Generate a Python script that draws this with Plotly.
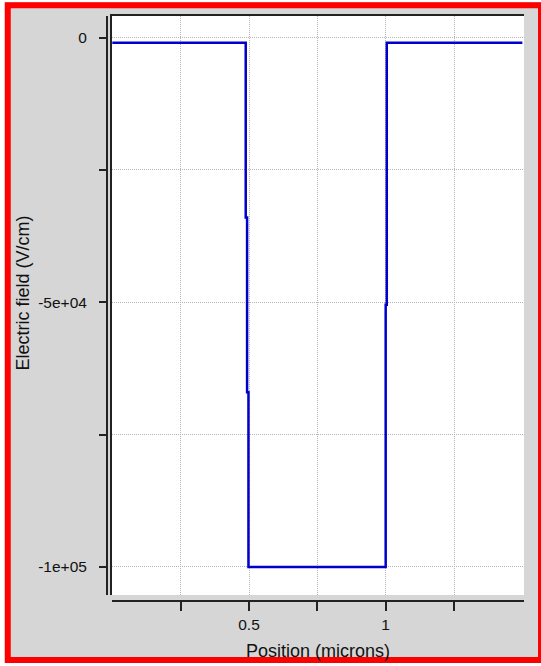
import plotly.graph_objects as go

# Electric field across the device (piecewise constant per mesh cell)
position_um = [0.0, 0.488, 0.493, 0.498, 1.0, 1.004, 1.5]
field_v_cm = [-1000, -34000, -67000, -100000, -50500, -1000, -1000]

x_ticks = [0.25, 0.5, 0.75, 1.0, 1.25]
x_tick_text = ["", "0.5", "", "1", ""]
y_ticks = [0, -25000, -50000, -75000, -100000]
y_tick_text = ["0", "", "-5e+04", "", "-1e+05"]

W, H = 541, 666
ML, MR, MT, MB = 107, 17, 16, 65
PW, PH = W - ML - MR, H - MT - MB

def fx(px):
    return (px - ML) / PW

def fy(py):
    return (H - MB - py) / PH

BG = "#d6d6d6"
AXC = "#222222"
FONT = "Liberation Sans, Arial, Helvetica, sans-serif"
x_range = [-0.003, 1.506]
y_range = [-105300, 4060]

fig = go.Figure()
fig.add_trace(go.Scatter(
    x=position_um, y=field_v_cm, mode="lines",
    line=dict(color="#0000cc", width=2.5, shape="hv"),
    showlegend=False, hoverinfo="skip",
))
# empty traces that register the offset tick axes
fig.add_trace(go.Scatter(x=[], y=[], xaxis="x2", yaxis="y", showlegend=False, hoverinfo="skip"))
fig.add_trace(go.Scatter(x=[], y=[], xaxis="x", yaxis="y2", showlegend=False, hoverinfo="skip"))

grid = dict(showgrid=True, gridcolor="#b4b4b4", gridwidth=1, griddash="1px,1px", zeroline=False)

fig.update_layout(
    width=W, height=H,
    margin=dict(l=ML, r=MR, t=MT, b=MB, pad=0),
    paper_bgcolor=BG, plot_bgcolor="white",
    font=dict(family=FONT, size=15, color="#111111"),
    showlegend=False,
    xaxis=dict(domain=[fx(111.5), 1], range=x_range, side="top",
               tickvals=x_ticks, ticks="", showticklabels=False,
               showline=True, linecolor=AXC, linewidth=2, **grid),
    yaxis=dict(domain=[fy(595), 1], range=y_range,
               tickvals=y_ticks, ticks="", showticklabels=False,
               showline=True, linecolor=AXC, linewidth=2, **grid),
    xaxis2=dict(overlaying="x", anchor="free", position=0, side="bottom",
                range=x_range, tickvals=x_ticks, ticktext=x_tick_text,
                ticks="outside", ticklen=9, tickwidth=2, tickcolor=AXC,
                showline=True, linecolor=AXC, linewidth=2,
                showgrid=False, zeroline=False,
                tickfont=dict(size=15.5)),
    yaxis2=dict(overlaying="y", anchor="free", position=0, side="left",
                range=y_range, tickvals=y_ticks, ticktext=y_tick_text,
                ticks="outside", ticklen=7, tickwidth=2, tickcolor=AXC,
                ticklabelstandoff=9,
                showline=True, linecolor=AXC, linewidth=2,
                showgrid=False, zeroline=False,
                tickfont=dict(size=15.5)),
)

# Axis titles
fig.add_annotation(text="Position (microns)", xref="paper", yref="paper",
                   x=fx(318), y=fy(651), showarrow=False,
                   xanchor="center", yanchor="middle",
                   font=dict(size=18, family=FONT, color="#111111"))
fig.add_annotation(text="Electric field (V/cm)", xref="paper", yref="paper",
                   x=fx(22), y=fy(293.5), showarrow=False, textangle=-90,
                   xanchor="center", yanchor="middle",
                   font=dict(size=18, family=FONT, color="#111111"))

# Window frame: white outer strips and red border
for x0, y0, x1, y1 in [(0, 0, 5, H), (0, 0, W, 2), (0, 663, W, H)]:
    fig.add_shape(type="rect", xref="paper", yref="paper",
                  x0=fx(x0), x1=fx(x1), y0=fy(y1), y1=fy(y0),
                  line=dict(width=0), fillcolor="white", layer="above")
fig.add_shape(type="rect", xref="paper", yref="paper",
              x0=fx(7.75), x1=fx(541), y0=fy(660), y1=fy(5.25),
              line=dict(color="#ff0000", width=6), fillcolor="rgba(0,0,0,0)",
              layer="above")

fig.write_html("out.html")
